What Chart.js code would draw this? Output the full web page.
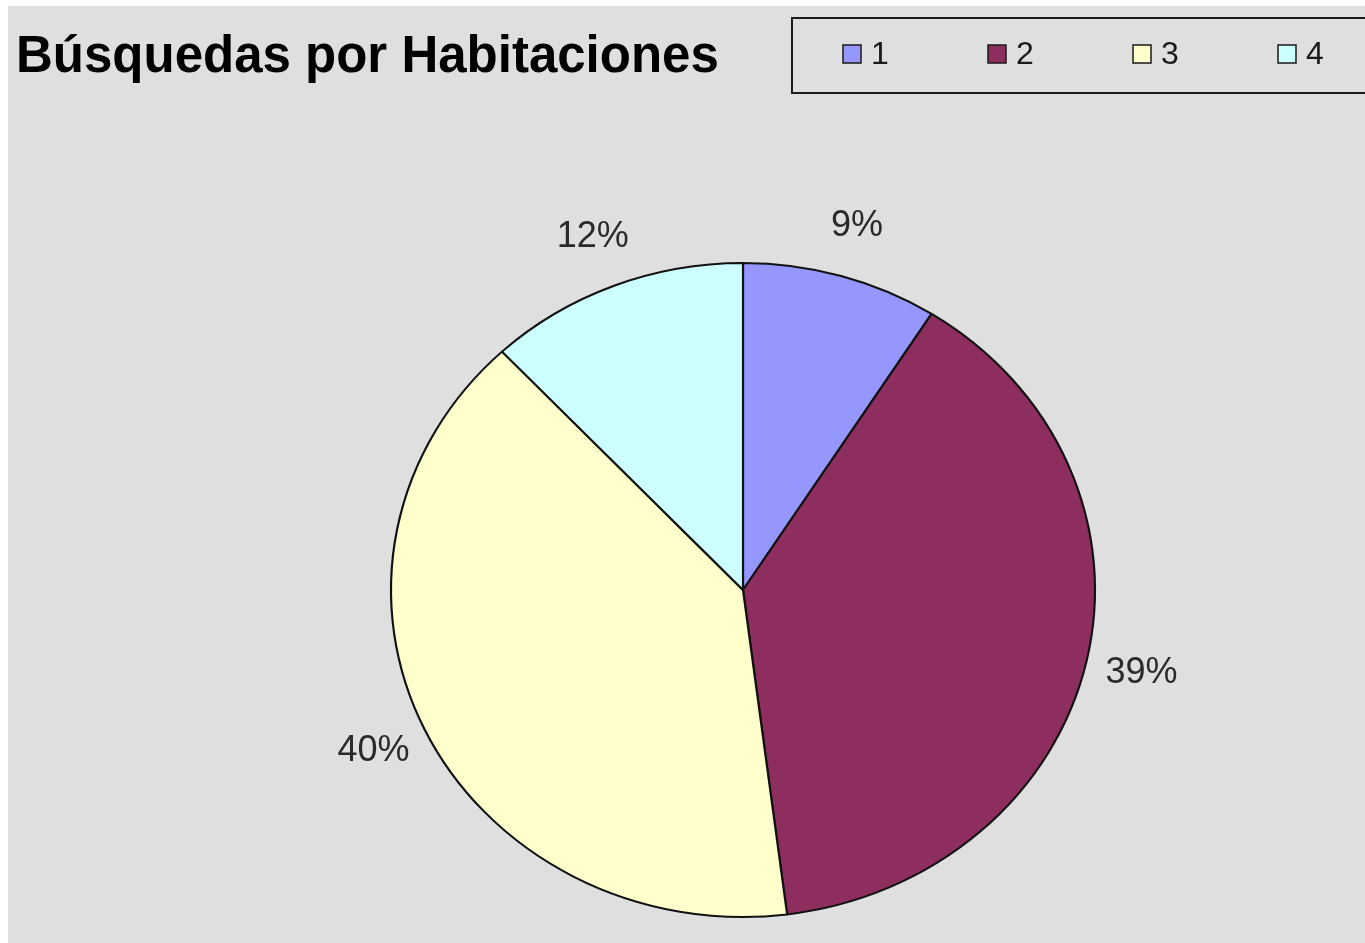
<!DOCTYPE html>
<html>
<head>
<meta charset="utf-8">
<script src="https://cdn.jsdelivr.net/npm/chart.js@4.4.1/dist/chart.umd.min.js"></script>
<style>
    html, body { margin: 0; padding: 0; background: #ffffff; }
    #wrap { position: absolute; left: 8px; top: 6px; width: 1357px; height: 937px; background: #dfdfdf; }
</style>
</head>
<body>
<div id="wrap"><canvas id="pieChart"></canvas></div>
<script>
const chartTitle = 'Búsquedas por Habitaciones';
const categories = ['1', '2', '3', '4'];
const searches = [9, 39, 40, 12];
const sliceColors = ['#9696ff', '#8e2e5e', '#ffffcc', '#ccffff'];

// ellipse stretch of the old excel pie (wider than tall)
const stretchX = 352 / 327;

const excelLook = {
    id: 'excelLook',
    beforeDatasetsDraw(chart) {
        const arc = chart.getDatasetMeta(0).data[0];
        const c = chart.ctx;
        c.save();
        c.translate(arc.x, arc.y);
        c.scale(stretchX, 1);
        c.translate(-arc.x, -arc.y);
    },
    afterDatasetsDraw(chart) {
        const c = chart.ctx;
        c.restore();

        // percentage labels outside each slice
        const meta = chart.getDatasetMeta(0);
        const values = chart.data.datasets[0].data;
        const total = values.reduce((a, b) => a + b, 0);
        c.save();
        c.font = '36px "Liberation Sans", Arial, sans-serif';
        c.fillStyle = '#2a2a2a';
        c.textAlign = 'center';
        c.textBaseline = 'middle';
        meta.data.forEach((arc, i) => {
            const mid = (arc.startAngle + arc.endAngle) / 2;
            const r = arc.outerRadius * 1.16;
            const x = arc.x + Math.cos(mid) * r * stretchX;
            const y = arc.y + Math.sin(mid) * r;
            c.fillText(Math.round(values[i] / total * 100) + '%', x, y);
        });
        c.restore();
    },
    afterDraw(chart) {
        const c = chart.ctx;
        c.save();
        // title
        c.font = 'bold 51px "Liberation Sans", Arial, sans-serif';
        c.fillStyle = '#000000';
        c.textAlign = 'left';
        c.textBaseline = 'alphabetic';
        c.fillText(chartTitle, 8, 66);

        // legend box
        c.strokeStyle = '#1a1a1a';
        c.lineWidth = 2;
        c.strokeRect(784, 12, 600, 75);
        c.font = '32px "Liberation Sans", Arial, sans-serif';
        c.textBaseline = 'middle';
        chart.data.labels.forEach((lab, i) => {
            const x = 835 + i * 145;
            const y = 48;
            c.fillStyle = chart.data.datasets[0].backgroundColor[i];
            c.fillRect(x, y - 9, 18, 18);
            c.lineWidth = 1.5;
            c.strokeRect(x, y - 9, 18, 18);
            c.fillStyle = '#1a1a1a';
            c.fillText(lab, x + 28, y + 1);
        });
        c.restore();
    }
};

new Chart(document.getElementById('pieChart'), {
    type: 'pie',
    data: {
        labels: categories,
        datasets: [{
            data: searches,
            backgroundColor: sliceColors,
            borderColor: '#111111',
            borderWidth: 2,
            hoverOffset: 0,
            clip: false
        }]
    },
    options: {
        responsive: true,
        maintainAspectRatio: false,
        animation: false,
        layout: {
            padding: { top: 256, bottom: 25, left: 300, right: 187 }
        },
        plugins: {
            legend: { display: false },
            title: { display: false },
            tooltip: { enabled: false }
        }
    },
    plugins: [excelLook]
});
</script>
</body>
</html>
